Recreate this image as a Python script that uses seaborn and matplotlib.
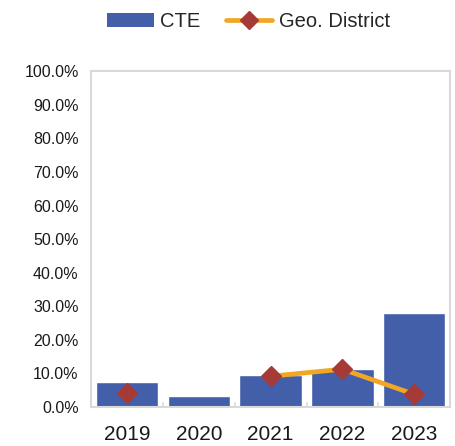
import numpy as np
import pandas as pd
import matplotlib
matplotlib.use("Agg")
import matplotlib.pyplot as plt
import seaborn as sns
from matplotlib.patches import Patch
from matplotlib.lines import Line2D
from matplotlib.ticker import PercentFormatter

# Data
years = ["2019", "2020", "2021", "2022", "2023"]
cte = [7.5, 3.3, 9.6, 11.3, 27.9]
geo_district = [4.1, np.nan, 9.1, 11.2, 3.7]
y_ticks = [0, 10, 20, 30, 40, 50, 60, 70, 80, 90, 100]

sns.set_theme(style="white")
plt.rcParams["font.family"] = ["Liberation Sans Narrow", "Liberation Sans", "DejaVu Sans"]

bar_color = "#445FA9"
line_color = "#F2A623"
marker_color = "#A63A36"
frame_color = "#D9D9D9"

fig = plt.figure(figsize=(4.56, 4.46), dpi=100)
ax = fig.add_axes([0.2, 0.088, 0.787, 0.752])

df = pd.DataFrame({"year": years, "CTE": cte, "Geo. District": geo_district})

sns.barplot(data=df, x="year", y="CTE", color=bar_color, saturation=1,
            width=0.87, ax=ax)

pos = np.arange(len(years))
ax.plot(pos, df["Geo. District"], color=line_color, lw=3.4, zorder=3)
ax.plot(pos, df["Geo. District"], linestyle="none", marker="D", ms=10,
        color=marker_color, zorder=4)

ax.set_ylim(0, 100)
ax.set_xlim(-0.5, len(years) - 0.5)
ax.set_yticks(y_ticks)
ax.yaxis.set_major_formatter(PercentFormatter(decimals=1))
ax.set_xlabel("")
ax.set_ylabel("")
ax.tick_params(axis="y", labelsize=11.5, colors="#1a1a1a", length=0, pad=9)
ax.tick_params(axis="x", labelsize=15, colors="#1a1a1a", length=0, pad=13)

for s in ax.spines.values():
    s.set_color(frame_color)
    s.set_linewidth(1.5)
    s.set_visible(True)

# small separators between categories on the baseline
for b in np.arange(0.5, len(years) - 0.5, 1.0):
    ax.plot([b, b], [0, 1.2], color=frame_color, lw=1.2, zorder=1, clip_on=False)

handles = [
    Patch(facecolor=bar_color, edgecolor="none", label="CTE"),
    Line2D([0], [0], color=line_color, lw=3.4, marker="D", ms=9,
           markerfacecolor=marker_color, markeredgecolor=marker_color,
           label="Geo. District"),
]
fig.legend(handles=handles, loc="center", bbox_to_anchor=(0.545, 0.952), ncol=2,
           frameon=False, fontsize=14.5, handlelength=2.3, handleheight=0.65,
           columnspacing=1.3, handletextpad=0.3)

fig.savefig("out.png", dpi=100)
